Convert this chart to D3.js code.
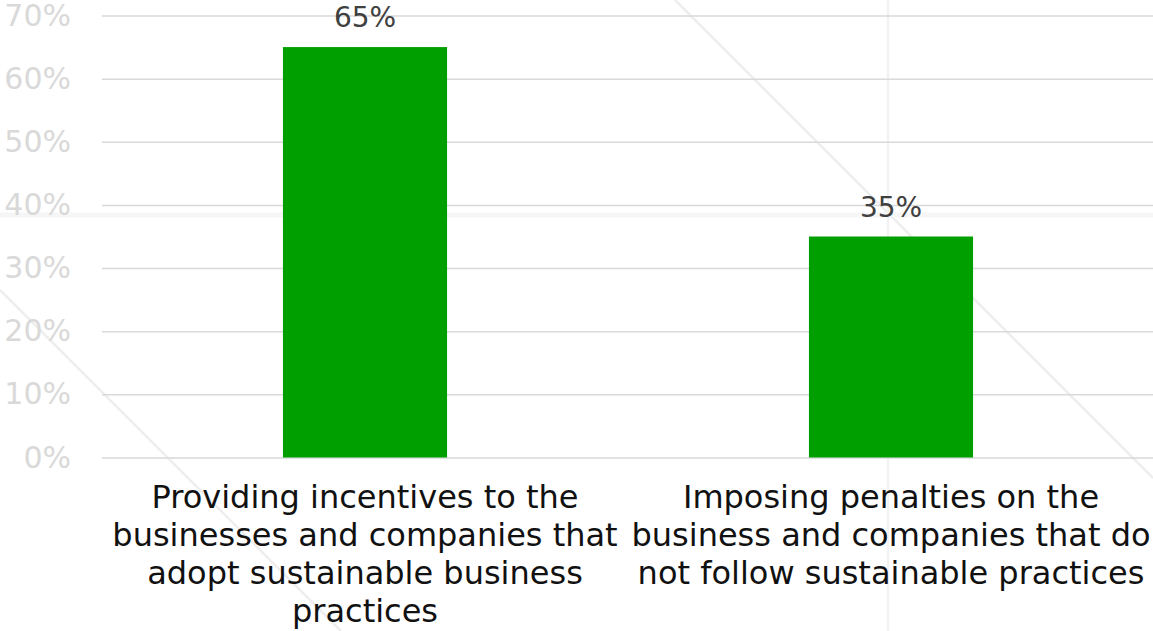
<!DOCTYPE html>
<html>
<head>
<meta charset="utf-8">
<script src="https://cdn.jsdelivr.net/npm/d3@7"></script>
<style>
    html, body { margin: 0; padding: 0; background: #ffffff; }
    svg { display: block; font-family: "DejaVu Sans", sans-serif; }
</style>
</head>
<body>
<svg id="chart" width="1153" height="631"></svg>
<script>
/* ========================= DATA ======================== */
const categories   = ["incentives", "penalties"];
const values       = [0.65, 0.35];
const categoryText = [
    ["Providing incentives to the", "businesses and companies that", "adopt sustainable business", "practices"],
    ["Imposing penalties on the", "business and companies that do", "not follow sustainable practices"]
];
const yTicks = [0, 0.1, 0.2, 0.3, 0.4, 0.5, 0.6, 0.7];

/* ======================== LAYOUT ======================= */
const width  = 1153,
      height = 631;
const plot = { left: 102, right: 1154, top: 15.5, bottom: 457.5 };

const svg = d3.select("#chart");

const x = d3.scaleBand()
            .domain(categories)
            .range([plot.left, plot.right])
            .padding(0);
const barWidth = x.bandwidth() * 0.312;

const y = d3.scaleLinear()
            .domain([0, 0.7])
            .range([plot.bottom, plot.top]);

/* faint watermark lines in the background */
const watermark = svg.append("g")
                     .attr("id", "watermark")
                     .attr("stroke", "#eeeeee")
                     .attr("fill", "none");
watermark.append("line").attr("x1", 675).attr("y1", 0).attr("x2", 1153).attr("y2", 478).attr("stroke-width", 2.5);
watermark.append("line").attr("x1", 0).attr("y1", 290).attr("x2", 341).attr("y2", 631).attr("stroke-width", 2.5);
watermark.append("line").attr("x1", 888).attr("y1", 0).attr("x2", 888).attr("y2", 631).attr("stroke-width", 2.5).attr("stroke", "#f2f2f2");
watermark.append("line").attr("x1", 0).attr("y1", 215).attr("x2", 1153).attr("y2", 215).attr("stroke-width", 5).attr("stroke", "#f6f6f6");

/* y axis + gridlines */
const yAxis = svg.append("g")
                 .attr("transform", `translate(${plot.left},0)`)
                 .call(d3.axisLeft(y)
                         .tickValues(yTicks)
                         .tickSize(-(width - plot.left))
                         .tickPadding(31)
                         .tickFormat(d3.format(".0%")));

yAxis.select(".domain").remove();
yAxis.selectAll(".tick line")
     .attr("stroke", "#d9d9d9")
     .attr("stroke-width", 1.5);
yAxis.selectAll(".tick text")
     .attr("fill", "#d9d9d9")
     .style("font-size", "30px")
     .style("font-family", "\"DejaVu Sans\", sans-serif");

/* bars */
svg.append("g")
   .selectAll("rect")
   .data(values)
   .join("rect")
   .attr("x", (d, i) => x(categories[i]) + (x.bandwidth() - barWidth) / 2)
   .attr("y", d => y(d))
   .attr("width", barWidth)
   .attr("height", d => y(0) - y(d))
   .attr("fill", "#009f00");

/* value labels */
svg.append("g")
   .selectAll("text")
   .data(values)
   .join("text")
   .attr("x", (d, i) => x(categories[i]) + x.bandwidth() / 2)
   .attr("y", d => y(d) - 20)
   .attr("text-anchor", "middle")
   .attr("fill", "#404040")
   .style("font-size", "28px")
   .text(d => d3.format(".0%")(d));

/* category labels, wrapped like the original */
svg.append("g")
   .selectAll("text")
   .data(categoryText)
   .join("text")
   .attr("text-anchor", "middle")
   .attr("fill", "#111111")
   .style("font-size", "32px")
   .each(function(lines, i) {
       d3.select(this)
         .selectAll("tspan")
         .data(lines)
         .join("tspan")
         .attr("x", x(categories[i]) + x.bandwidth() / 2)
         .attr("y", (l, j) => 508 + j * 38)
         .text(l => l);
   });
</script>
</body>
</html>
